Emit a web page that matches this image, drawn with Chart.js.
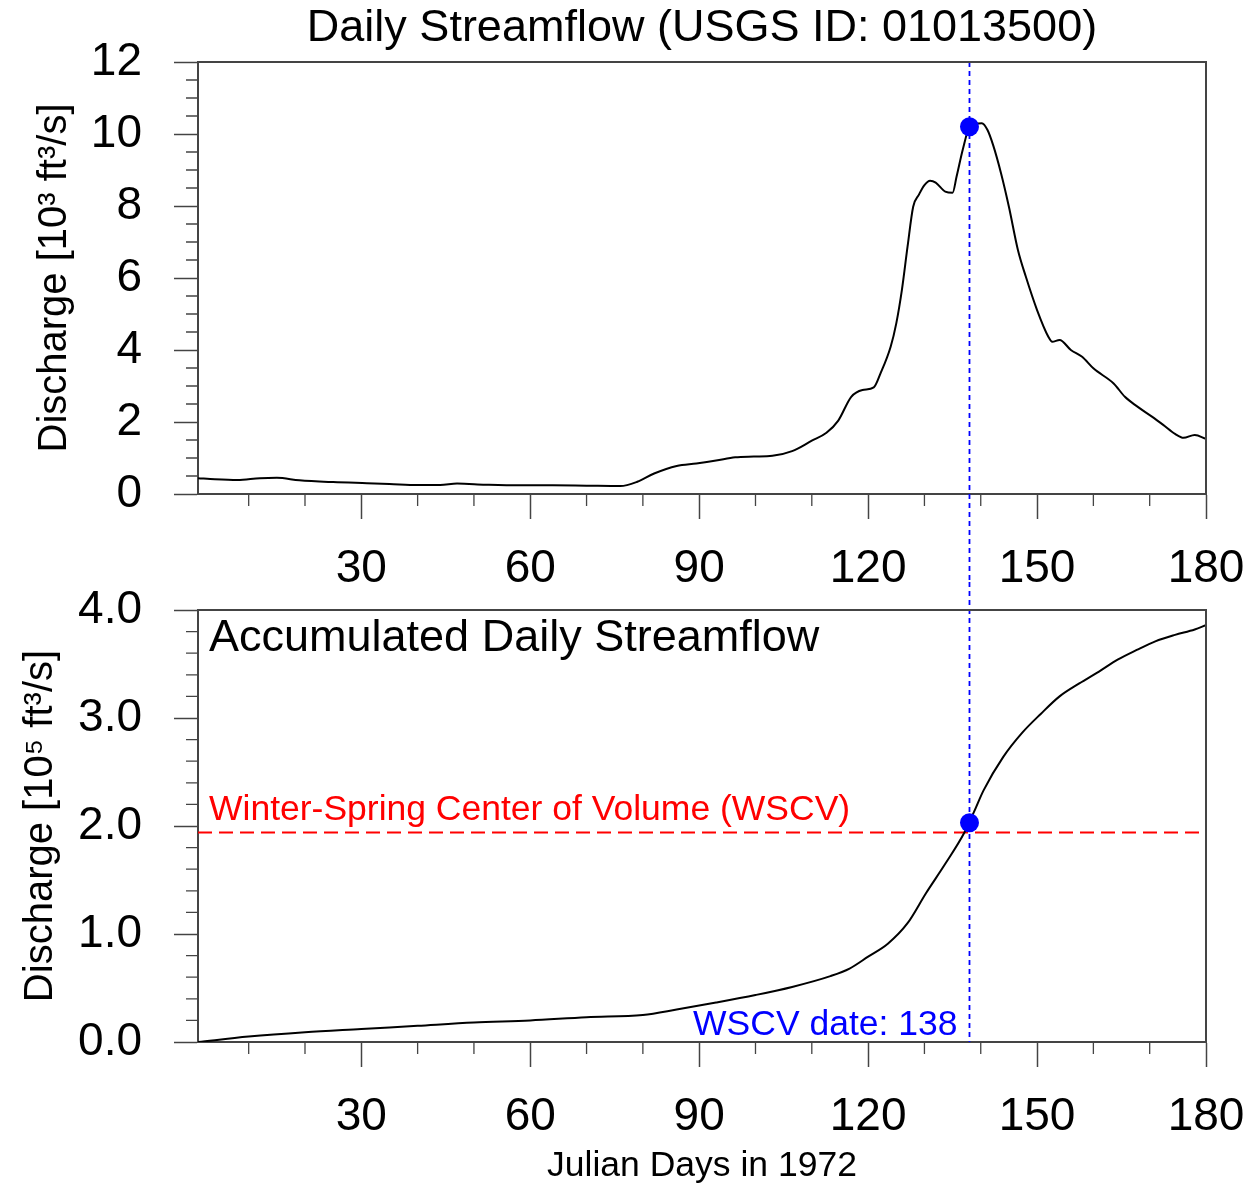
<!DOCTYPE html>
<html>
<head>
<meta charset="utf-8">
<title>Daily Streamflow (USGS ID: 01013500)</title>
<script src="https://cdn.jsdelivr.net/npm/chart.js@4.4.1/dist/chart.umd.min.js"></script>
<style>
  body { margin: 0; background: #fff; }
  #wrap { position: relative; width: 1243px; height: 1189px; }
  canvas { position: absolute; left: 0; }
  #dailyChart { top: 0; }
  #accumChart { top: 560px; }
</style>
</head>
<body>
<div id="wrap">
  <canvas id="dailyChart" width="1243" height="600"></canvas>
  <canvas id="accumChart" width="1243" height="629"></canvas>
</div>
<script>
// daily discharge, 10^3 ft^3/s
const flowDays = [1, 4, 8, 12, 15, 19, 25, 31, 35, 40, 44, 47, 52, 58, 64, 70, 76, 79, 82, 86,
  89.5, 93, 96.4, 99.7, 103, 106.5, 110, 112.6, 114.7, 117, 119, 121, 122.2, 124, 125, 126, 127, 128,
  129, 130, 131, 132, 133.7, 135, 135.7, 136.8, 138, 139, 140.2, 141.2, 142.2, 143.6, 145, 146.6, 148,
  150, 152, 152.7, 154, 156, 158, 160, 163.6, 165.6, 167.7, 170.4, 172.4, 174.5, 176, 178, 180];
const flowValues = [0.44, 0.41, 0.39, 0.44, 0.45, 0.38, 0.33, 0.30, 0.28, 0.25, 0.25, 0.29, 0.26, 0.24, 0.24, 0.23, 0.22, 0.34, 0.57, 0.78,
  0.85, 0.93, 1.02, 1.04, 1.06, 1.19, 1.48, 1.70, 2.04, 2.70, 2.89, 2.96, 3.35, 4.09, 4.74, 5.67, 6.87, 7.98,
  8.31, 8.58, 8.70, 8.65, 8.40, 8.37, 8.81, 9.56, 10.2, 10.28, 10.30, 10.11, 9.69, 8.91, 7.98, 6.78, 6.04,
  5.11, 4.37, 4.23, 4.28, 4.00, 3.81, 3.49, 3.07, 2.70, 2.44, 2.15, 1.92, 1.67, 1.56, 1.64, 1.53];

// accumulated discharge, 10^5 ft^3/s
const accumDays = [1, 10, 20, 30, 40, 50, 60, 70, 80, 86, 93, 100, 106.5, 113.3, 116.7, 120, 123.5, 127,
  130.3, 133.7, 137.1, 138.8, 140.5, 144, 147.3, 150.7, 154, 157.5, 161, 164.3, 167.7, 171, 174.5, 178, 180];
const accumValues = [0.0, 0.05, 0.09, 0.12, 0.15, 0.18, 0.20, 0.23, 0.25, 0.30, 0.365, 0.435, 0.51, 0.61, 0.68, 0.79, 0.91, 1.10,
  1.38, 1.65, 1.94, 2.13, 2.33, 2.64, 2.86, 3.04, 3.20, 3.32, 3.43, 3.54, 3.63, 3.71, 3.77, 3.82, 3.86];

const wscvDay = 138;
const wscvFlow = 10.2;
const wscvAccum = 2.03;
const wscvLevel = 1.94;

const dayTicks = [30, 60, 90, 120, 150, 180];
const dayMinorTicks = [10, 20, 40, 50, 70, 80, 100, 110, 130, 140, 160, 170];
const flowTicks = [0, 2, 4, 6, 8, 10, 12];
const accumTicks = [0, 1, 2, 3, 4];

const FONT = '"Liberation Sans", Arial, Helvetica, sans-serif';
const AXIS_COLOR = '#444';
Chart.defaults.font.family = FONT;
Chart.defaults.color = '#000';

// minor ticks between each pair of major ticks
function minorBetween(majors, n) {
    const out = [];
    for (let i = 0; i < majors.length - 1; i++) {
        const step = (majors[i + 1] - majors[i]) / (n + 1);
        for (let k = 1; k <= n; k++) out.push(majors[i] + k * step);
    }
    return out;
}

// top/right frame plus minor tick marks
const frameAndMinor = {
    id: 'frameAndMinor',
    afterDraw(chart, args, opts) {
        const { ctx, chartArea: a, scales } = chart;
        ctx.save();
        ctx.strokeStyle = AXIS_COLOR;
        ctx.lineWidth = 2;
        ctx.beginPath();
        ctx.moveTo(a.left, a.top);
        ctx.lineTo(a.right, a.top);
        ctx.lineTo(a.right, a.bottom);
        ctx.stroke();
        ctx.lineWidth = 1.3;
        ctx.beginPath();
        opts.x.forEach(v => {
            const px = scales.x.getPixelForValue(v);
            ctx.moveTo(px, a.bottom);
            ctx.lineTo(px, a.bottom + 12);
        });
        opts.y.forEach(v => {
            const py = scales.y.getPixelForValue(v);
            ctx.moveTo(a.left - 12, py);
            ctx.lineTo(a.left, py);
        });
        ctx.stroke();
        ctx.restore();
    }
};

// blue dotted line at the WSCV date, runs across both panels
const wscvMarker = {
    id: 'wscvMarker',
    beforeDatasetsDraw(chart, args, opts) {
        const { ctx, chartArea: a, scales: { x } } = chart;
        const px = x.getPixelForValue(opts.day);
        ctx.save();
        ctx.strokeStyle = '#0000ff';
        ctx.lineWidth = 1.8;
        ctx.setLineDash([5, 4]);
        ctx.beginPath();
        ctx.moveTo(px, opts.top == null ? a.top : opts.top);
        ctx.lineTo(px, opts.bottom == null ? a.bottom : opts.bottom);
        ctx.stroke();
        ctx.restore();
    }
};

const accumLabels = {
    id: 'accumLabels',
    afterDraw(chart) {
        const { ctx, chartArea: a, scales: { x, y } } = chart;
        ctx.save();
        ctx.textBaseline = 'alphabetic';
        ctx.textAlign = 'left';
        ctx.fillStyle = '#000';
        ctx.font = '45px ' + FONT;
        ctx.fillText('Accumulated Daily Streamflow', a.left + 11, a.top + 41);
        ctx.fillStyle = '#ff0000';
        ctx.font = '35.5px ' + FONT;
        ctx.fillText('Winter-Spring Center of Volume (WSCV)', a.left + 11, y.getPixelForValue(wscvLevel) - 12);
        ctx.fillStyle = '#0000ff';
        ctx.textAlign = 'right';
        ctx.fillText('WSCV date: ' + wscvDay, x.getPixelForValue(wscvDay) - 12, a.bottom - 7);
        ctx.restore();
    }
};

function xScale(height, titleOn) {
    return {
        type: 'linear',
        min: 1,
        max: 180,
        afterBuildTicks: s => { s.ticks = dayTicks.map(v => ({ value: v })); },
        afterFit: s => {
            s.height = height;
            s.paddingLeft = 0;
            s.paddingRight = 0;
        },
        grid: { drawOnChartArea: false, tickLength: 25, tickColor: AXIS_COLOR, tickWidth: 1.5 },
        border: { color: AXIS_COLOR, width: 2 },
        ticks: { font: { size: 46 }, color: '#000', padding: 23, maxRotation: 0, autoSkip: false },
        title: {
            display: titleOn,
            text: 'Julian Days in 1972',
            font: { size: 35.5 },
            color: '#000',
            padding: { top: 0, bottom: 1 }
        }
    };
}

function yScale(max, ticks, label, titlePad, fmt) {
    return {
        min: 0,
        max: max,
        afterBuildTicks: s => { s.ticks = ticks.map(v => ({ value: v })); },
        afterFit: s => {
            s.width = 198;
            s.paddingTop = 0;
            s.paddingBottom = 0;
        },
        grid: { drawOnChartArea: false, tickLength: 24, tickColor: AXIS_COLOR, tickWidth: 1.5 },
        border: { color: AXIS_COLOR, width: 2 },
        ticks: { font: { size: 46 }, color: '#000', padding: 32, callback: fmt },
        title: {
            display: true,
            text: label,
            font: { size: 40 },
            color: '#000',
            padding: { top: titlePad, bottom: 0 }
        }
    };
}

new Chart(document.getElementById('dailyChart'), {
    type: 'line',
    data: {
        datasets: [{
            data: [{ x: wscvDay, y: wscvFlow }],
            showLine: false,
            pointRadius: 9.5,
            pointBackgroundColor: '#0000ff',
            pointBorderWidth: 0
        }, {
            data: flowDays.map((d, i) => ({ x: d, y: flowValues[i] })),
            borderColor: '#000',
            borderWidth: 2,
            pointRadius: 0,
            cubicInterpolationMode: 'monotone'
        }]
    },
    options: {
        responsive: false,
        animation: false,
        events: [],
        layout: { padding: { left: 0, right: 37, top: 0, bottom: 0 } },
        plugins: {
            legend: { display: false },
            tooltip: { enabled: false },
            title: {
                display: true,
                fullSize: false,
                text: 'Daily Streamflow (USGS ID: 01013500)',
                font: { size: 45, weight: 'normal' },
                color: '#000',
                padding: { top: 2, bottom: 6 }
            },
            frameAndMinor: { x: dayMinorTicks, y: minorBetween(flowTicks, 3) },
            wscvMarker: { day: wscvDay, top: null, bottom: 582 }
        },
        scales: {
            x: xScale(106, false),
            y: yScale(12, flowTicks, 'Discharge [10\u00b3 ft\u00b3/s]', 31, v => String(v))
        }
    },
    plugins: [frameAndMinor, wscvMarker]
});

new Chart(document.getElementById('accumChart'), {
    type: 'line',
    data: {
        datasets: [{
            data: [{ x: wscvDay, y: wscvAccum }],
            showLine: false,
            pointRadius: 9.5,
            pointBackgroundColor: '#0000ff',
            pointBorderWidth: 0
        }, {
            data: accumDays.map((d, i) => ({ x: d, y: accumValues[i] })),
            borderColor: '#000',
            borderWidth: 2,
            pointRadius: 0,
            cubicInterpolationMode: 'monotone'
        }, {
            data: [{ x: 1, y: wscvLevel }, { x: 180, y: wscvLevel }],
            borderColor: '#ff0000',
            borderWidth: 2,
            borderDash: [14, 7],
            pointRadius: 0
        }]
    },
    options: {
        responsive: false,
        animation: false,
        events: [],
        layout: { padding: { left: 0, right: 37, top: 50, bottom: 0 } },
        plugins: {
            legend: { display: false },
            tooltip: { enabled: false },
            frameAndMinor: { x: dayMinorTicks, y: minorBetween(accumTicks, 4) },
            wscvMarker: { day: wscvDay, top: 22, bottom: null }
        },
        scales: {
            x: xScale(147, true),
            y: yScale(4, accumTicks, 'Discharge [10\u2075 ft\u00b3/s]', 17, v => v.toFixed(1))
        }
    },
    plugins: [frameAndMinor, wscvMarker, accumLabels]
});
</script>
</body>
</html>
